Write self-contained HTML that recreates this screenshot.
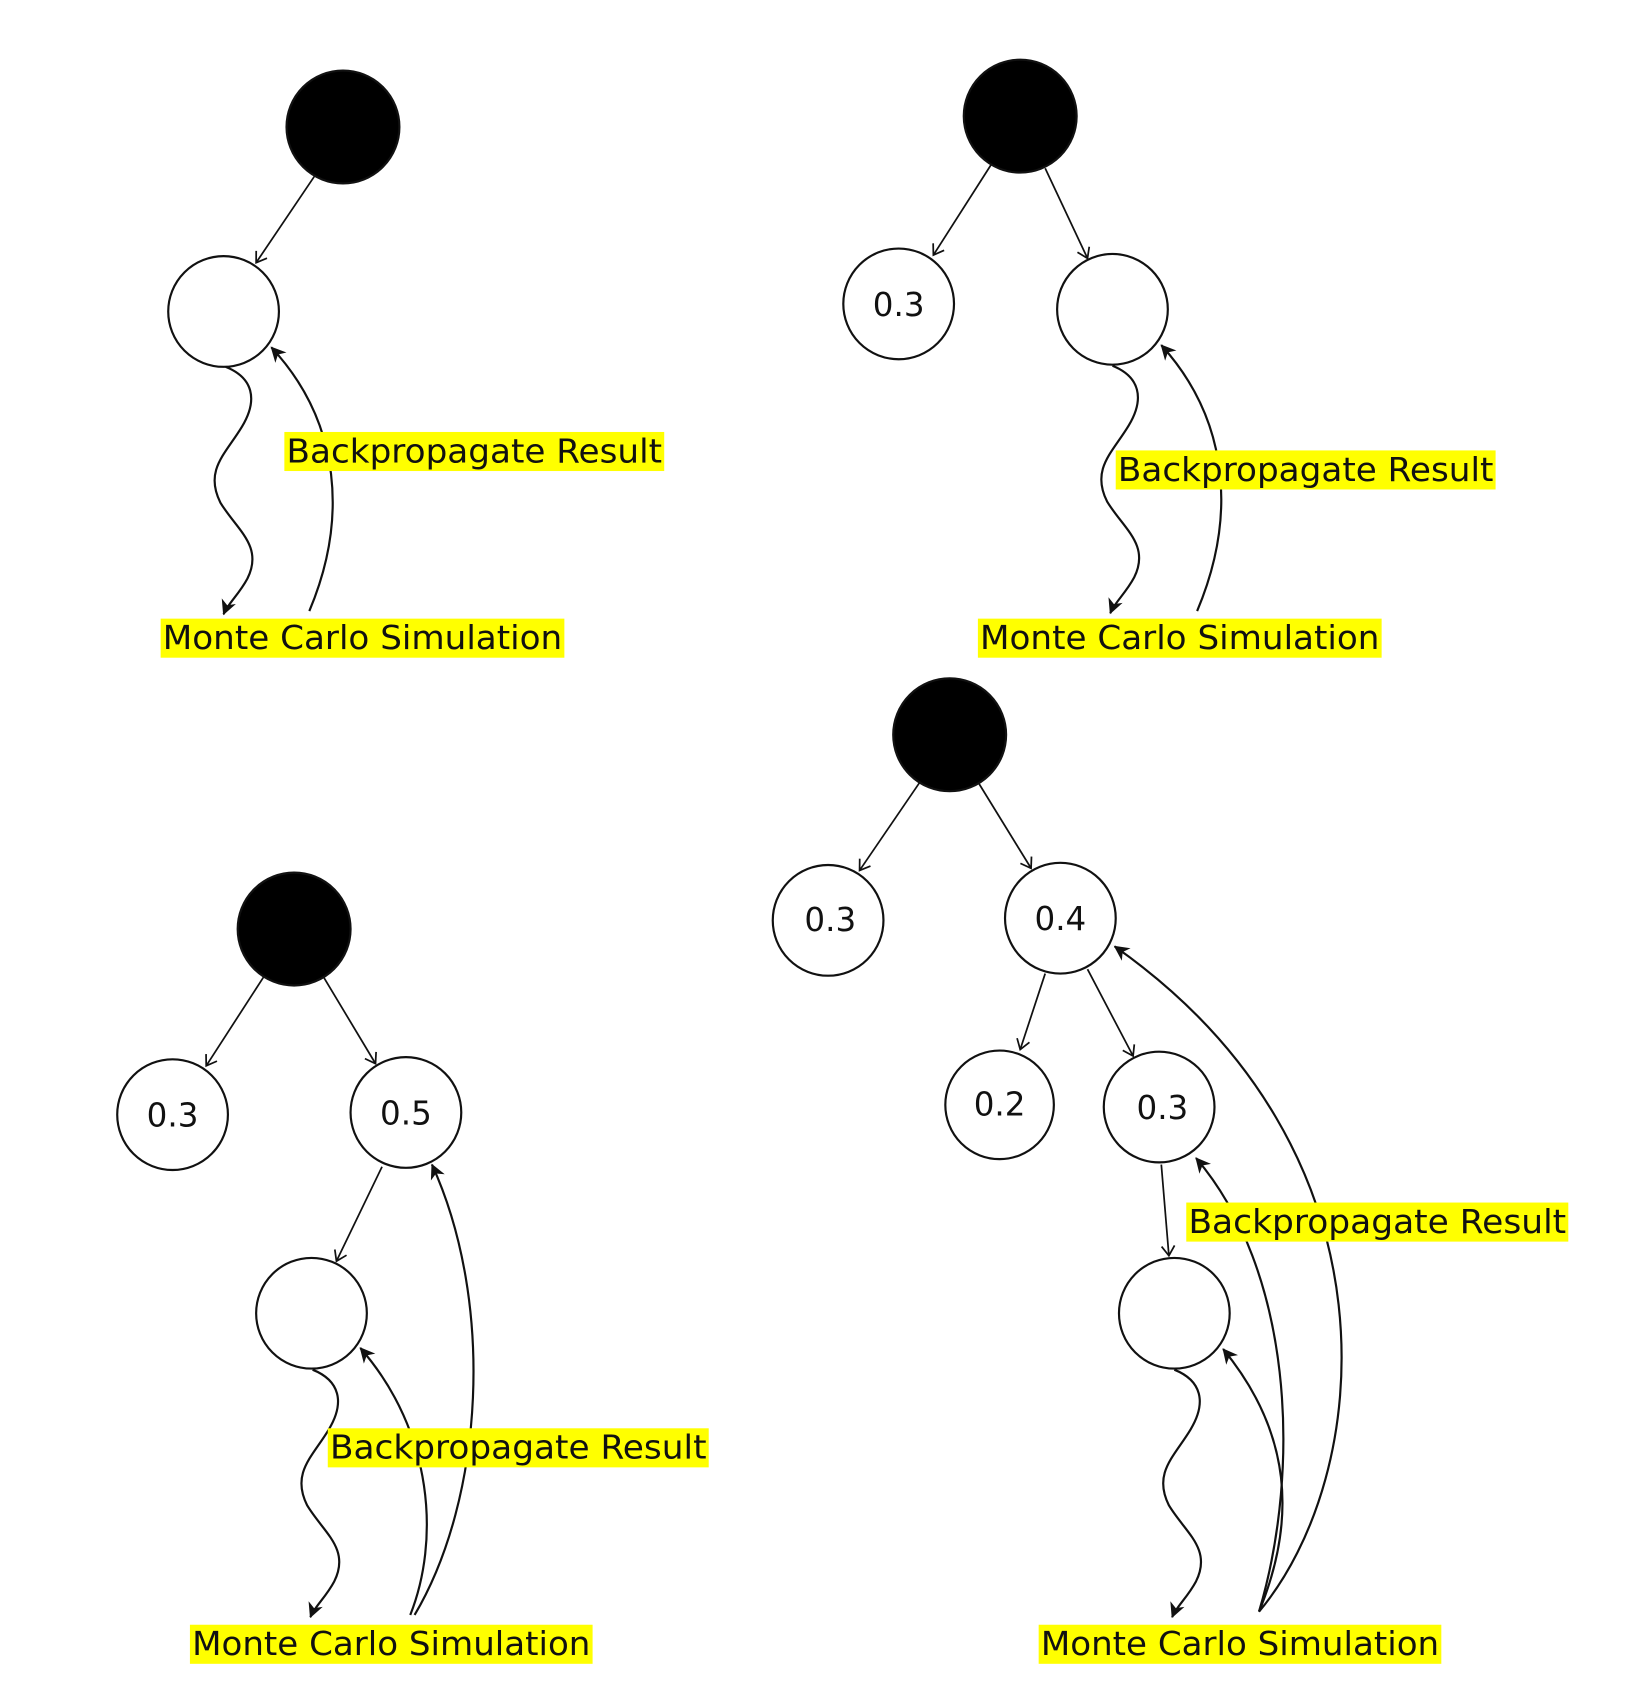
<!DOCTYPE html>
<html><head><meta charset="utf-8"><style>
html,body{margin:0;padding:0;background:#fff;}
svg{display:block;}
text{font-family:"DejaVu Sans","Liberation Sans",sans-serif;fill:#111;}
</style></head><body>
<svg width="1628" height="1698" viewBox="0 0 1500 1564.5" preserveAspectRatio="none" xmlns="http://www.w3.org/2000/svg">
<defs>
<marker id="op" markerWidth="14" markerHeight="14" refX="11" refY="7" orient="auto" markerUnits="userSpaceOnUse">
<path d="M2,1 L11,7 L2,13" fill="none" stroke="#111" stroke-width="1.6"/>
</marker>
<marker id="fl" markerWidth="18" markerHeight="18" refX="14" refY="9" orient="auto" markerUnits="userSpaceOnUse">
<path d="M1,2 L15,9 L1,16 L5,9 Z" fill="#111"/>
</marker>
<g id="wave"><path d="M0,0 C25,10 30,30 15,55 C0,80 -20,95 -5,125 C10,150 35,165 20,195 C12,210 2,218 -2,228" fill="none" stroke="#111" stroke-width="2" marker-end="url(#fl)"/></g>
</defs>
<g fill="none" stroke="#111" stroke-width="2">
<!-- Panel A -->
<circle cx="316" cy="117" r="52" fill="#000"/>
<circle cx="206" cy="287" r="51" fill="#fff"/>
<path d="M290,162 L236,242" stroke-width="1.6" marker-end="url(#op)"/>
<path d="M285,563 C320,480 315,390 250,320" marker-end="url(#fl)"/>
<!-- Panel B -->
<circle cx="940" cy="107" r="52" fill="#000"/>
<circle cx="828" cy="280" r="51" fill="#fff"/>
<circle cx="1025" cy="285" r="51" fill="#fff"/>
<path d="M913,152 L860,235" stroke-width="1.6" marker-end="url(#op)"/>
<path d="M963,155 L1002,238" stroke-width="1.6" marker-end="url(#op)"/>
<path d="M1103,563 C1138,480 1135,390 1070,318" marker-end="url(#fl)"/>
<!-- Panel C -->
<circle cx="271" cy="856" r="52" fill="#000"/>
<circle cx="159" cy="1027" r="51" fill="#fff"/>
<circle cx="374" cy="1025" r="51" fill="#fff"/>
<circle cx="287" cy="1210" r="51" fill="#fff"/>
<path d="M243,900 L190,982" stroke-width="1.6" marker-end="url(#op)"/>
<path d="M298,900 L346,980" stroke-width="1.6" marker-end="url(#op)"/>
<path d="M352,1075 L310,1162" stroke-width="1.6" marker-end="url(#op)"/>
<path d="M378,1488 C405,1420 400,1320 332,1242" marker-end="url(#fl)"/>
<path d="M382,1488 C446,1380 456,1200 398,1073" marker-end="url(#fl)"/>
<!-- Panel D -->
<circle cx="875" cy="677" r="52" fill="#000"/>
<circle cx="763" cy="848" r="51" fill="#fff"/>
<circle cx="977" cy="846" r="51" fill="#fff"/>
<circle cx="921" cy="1018" r="50" fill="#fff"/>
<circle cx="1068" cy="1020" r="51" fill="#fff"/>
<circle cx="1082" cy="1210" r="51" fill="#fff"/>
<path d="M848,720 L792,802" stroke-width="1.6" marker-end="url(#op)"/>
<path d="M902,722 L950,800" stroke-width="1.6" marker-end="url(#op)"/>
<path d="M963,897 L940,967" stroke-width="1.6" marker-end="url(#op)"/>
<path d="M1002,893 L1044,973" stroke-width="1.6" marker-end="url(#op)"/>
<path d="M1070,1073 L1077,1157" stroke-width="1.6" marker-end="url(#op)"/>
<path d="M1160,1485 C1195,1400 1190,1320 1127,1243" marker-end="url(#fl)"/>
<path d="M1160,1485 C1200,1350 1190,1170 1102,1067" marker-end="url(#fl)"/>
<path d="M1160,1485 C1265,1360 1295,1060 1027,872" marker-end="url(#fl)"/>
</g>
<use href="#wave" x="208" y="338"/>
<use href="#wave" x="1025" y="337"/>
<use href="#wave" x="288" y="1262"/>
<use href="#wave" x="1082" y="1262"/>
<!-- labels -->
<g fill="#ffff00">
<rect x="262" y="398" width="350" height="36"/>
<rect x="148" y="570" width="372" height="36"/>
<rect x="1028" y="415" width="350" height="36"/>
<rect x="901" y="570" width="372" height="36"/>
<rect x="302" y="1316" width="351" height="36"/>
<rect x="175" y="1497" width="371" height="36"/>
<rect x="1093" y="1108" width="352" height="36"/>
<rect x="957" y="1497" width="371" height="36"/>
</g>
<g font-size="30">
<text x="264" y="426" textLength="346" lengthAdjust="spacingAndGlyphs">Backpropagate Result</text>
<text x="150" y="598" textLength="368" lengthAdjust="spacingAndGlyphs">Monte Carlo Simulation</text>
<text x="1030" y="443" textLength="346" lengthAdjust="spacingAndGlyphs">Backpropagate Result</text>
<text x="903" y="598" textLength="368" lengthAdjust="spacingAndGlyphs">Monte Carlo Simulation</text>
<text x="304" y="1344" textLength="347" lengthAdjust="spacingAndGlyphs">Backpropagate Result</text>
<text x="177" y="1525" textLength="367" lengthAdjust="spacingAndGlyphs">Monte Carlo Simulation</text>
<text x="1095" y="1136" textLength="348" lengthAdjust="spacingAndGlyphs">Backpropagate Result</text>
<text x="959" y="1525" textLength="367" lengthAdjust="spacingAndGlyphs">Monte Carlo Simulation</text>
</g>
<g font-size="30" text-anchor="middle">
<text x="828" y="291">0.3</text>
<text x="159" y="1038">0.3</text>
<text x="374" y="1036">0.5</text>
<text x="765" y="858">0.3</text>
<text x="977" y="857">0.4</text>
<text x="921" y="1028">0.2</text>
<text x="1071" y="1031">0.3</text>
</g>
</svg>
</body></html>
